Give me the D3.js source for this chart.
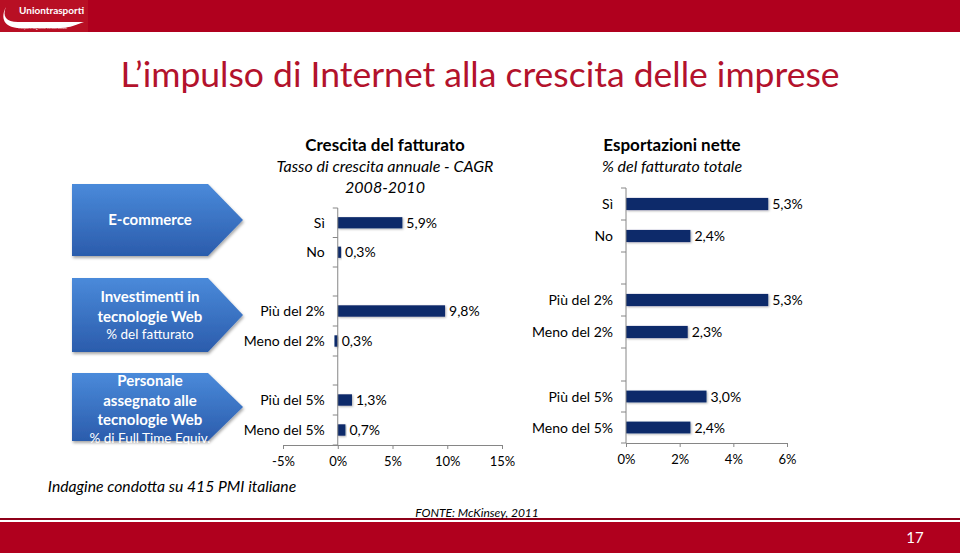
<!DOCTYPE html>
<html><head><meta charset="utf-8">
<script src="https://cdn.jsdelivr.net/npm/d3@7"></script>
<style>body{margin:0;background:#fff}svg{display:block;font-family:Lato,"Open Sans",sans-serif}</style>
</head><body><svg id="c" width="960" height="553"></svg>
<script>
// ---- data ----
const title = "L\u2019impulso di Internet alla crescita delle imprese";
const rowTitles = [
  {bold:["E-commerce"], sub:[]},
  {bold:["Investimenti in","tecnologie Web"], sub:["% del fatturato"]},
  {bold:["Personale","assegnato alle","tecnologie Web"], sub:["% di Full Time Equiv."]}
];
const leftCategories = [["Sì","No"],["Più del 2%","Meno del 2%"],["Più del 5%","Meno del 5%"]];
const rightCategories = [["Sì","No"],["Più del 2%","Meno del 2%"],["Più del 5%","Meno del 5%"]];
const growthValues = [[5.9,0.3],[9.8,-0.3],[1.3,0.7]];
const growthLabels = [["5,9%","0,3%"],["9,8%","0,3%"],["1,3%","0,7%"]];
const exportValues = [[5.3,2.4],[5.3,2.3],[3.0,2.4]];
const exportLabels = [["5,3%","2,4%"],["5,3%","2,3%"],["3,0%","2,4%"]];
const growthTicks = [-5,0,5,10,15];
const exportTicks = [0,2,4,6];
const growthTitle = ["Crescita del fatturato","Tasso di crescita annuale - CAGR","2008-2010"];
const exportTitle = ["Esportazioni nette","% del fatturato totale"];
const footnote = "Indagine condotta su 415 PMI italiane";
const source = "FONTE: McKinsey, 2011";
const pageNum = "17";

// ---- drawing ----
const svg = d3.select("#c");
const defs = svg.append("defs");
const g1 = defs.append("linearGradient").attr("id","arrowGrad").attr("x1",0).attr("y1",0).attr("x2",0).attr("y2",1);
g1.append("stop").attr("offset","0%").attr("stop-color","#4A8ADA");
g1.append("stop").attr("offset","100%").attr("stop-color","#2B5CAC");
const f = defs.append("filter").attr("id","shadow").attr("x","-10%").attr("y","-10%").attr("width","130%").attr("height","140%");
f.append("feDropShadow").attr("dx",1).attr("dy",2).attr("stdDeviation",1.5).attr("flood-color","#000").attr("flood-opacity",0.35);
const fb = defs.append("filter").attr("id","barShadow").attr("x","-10%").attr("y","-20%").attr("width","130%").attr("height","160%");
fb.append("feDropShadow").attr("dx",1).attr("dy",1).attr("stdDeviation",0.8).attr("flood-color","#000").attr("flood-opacity",0.3);

// header band
svg.append("rect").attr("x",0).attr("y",0).attr("width",960).attr("height",32).attr("fill","#B0001E");
svg.append("rect").attr("x",0).attr("y",0).attr("width",88).attr("height",32).attr("fill","#B80F24");
svg.append("path").attr("d","M6,7 C2,16 6,22 18,22 L84,22 C78,24 70,28 60,28 L20,28 C4,28 0,18 6,7 Z").attr("fill","#fff");
svg.append("text").attr("x",19).attr("y",14).attr("font-size",10).attr("font-weight","bold").attr("fill","#fff").text("Uniontrasporti");
svg.append("text").attr("x",18).attr("y",29).attr("font-size",3.5).attr("fill","#fff").text("Trasporti Logistica Infrastrutture");

// title
svg.append("text").attr("x",480).attr("y",87).attr("text-anchor","middle").attr("font-size",35.5)
  .attr("fill","#B3122C").text(title);

// footer band
svg.append("rect").attr("x",0).attr("y",518).attr("width",960).attr("height",2).attr("fill","#8E0019");
svg.append("rect").attr("x",0).attr("y",522).attr("width",960).attr("height",31).attr("fill","#B0001E");
svg.append("text").attr("x",915).attr("y",543).attr("text-anchor","middle").attr("font-size",15).attr("fill","#fff").text(pageNum);

// column headers
const hdr = (x, lines) => {
  lines.forEach((t,i)=>{
    svg.append("text").attr("x",x).attr("y",151+i*21).attr("text-anchor","middle")
      .attr("font-size",i===0?17:16).attr("font-weight",i===0?"bold":"normal")
      .attr("font-style",i===0?"normal":"italic").attr("fill","#000").text(t);
  });
};
hdr(385, growthTitle);
hdr(672, exportTitle);

// arrows
const arrows = [{top:184,bot:256},{top:278,bot:352},{top:373,bot:441}];
arrows.forEach((a,i)=>{
  const x0=72, xb=208, tip=243, mid=(a.top+a.bot)/2;
  svg.append("path").attr("d",`M${x0},${a.top}L${xb},${a.top}L${tip},${mid}L${xb},${a.bot}L${x0},${a.bot}Z`)
    .attr("fill","url(#arrowGrad)").attr("filter","url(#shadow)");
  const rt = rowTitles[i];
  const lines = rt.bold.map(t=>({t,b:true})).concat(rt.sub.map(t=>({t,b:false})));
  const lh = [[0],[0,20,37],[0,20,39,57]][i];
  const start = [225,302,386][i];
  lines.forEach((l,j)=>{
    svg.append("text").attr("x",150).attr("y",start+lh[j]).attr("text-anchor","middle")
      .attr("font-size",l.b?15:13.5).attr("font-weight",l.b?"bold":"normal").attr("fill","#fff").text(l.t);
  });
});

// panels
const leftBands = [[208,267],[296,356],[385,445]];
const rightBands = [[188,252],[284,348],[381,443]];
const x1 = d3.scaleLinear().domain([-5,15]).range([283,502]);
const x2 = d3.scaleLinear().domain([0,6]).range([626,787]);

function panel(x, bands, cats, vals, labels, ticks){
  const axisCol = "#868686";
  const zero = x(0);
  bands.forEach((b,i)=>{
    const y = d3.scaleBand().domain(cats[i]).range(b).paddingInner(0.62).paddingOuter(0.31);
    const g = svg.append("g");
    const step = (b[1]-b[0])/cats[i].length;
    d3.range(cats[i].length+1).forEach(k=>{
      const yy = b[0]+k*step;
      g.append("line").attr("x1",zero-5).attr("x2",zero).attr("y1",yy).attr("y2",yy).attr("stroke",axisCol);
    });
    cats[i].forEach((c,k)=>{
      const v = vals[i][k];
      g.append("rect").attr("x",Math.min(x(v),zero)).attr("y",y(c))
        .attr("width",Math.abs(x(v)-zero)).attr("height",y.bandwidth())
        .attr("fill","#0C2C6B").attr("filter","url(#barShadow)");
      g.append("text").attr("x",zero-13).attr("y",y(c)+y.bandwidth()/2+5).attr("text-anchor","end")
        .attr("font-size",14).attr("fill","#000").text(c);
      g.append("text").attr("x",Math.max(x(v),zero)+4).attr("y",y(c)+y.bandwidth()/2+5)
        .attr("font-size",14).attr("fill","#000").text(labels[i][k]);
    });
  });
  const top = bands[0][0], bottom = bands[bands.length-1][1];
  svg.append("line").attr("x1",zero).attr("x2",zero).attr("y1",top).attr("y2",bottom).attr("stroke",axisCol);
  const ax = svg.append("g").attr("transform",`translate(0,${bottom})`)
    .call(d3.axisBottom(x).tickValues(ticks).tickSize(4).tickSizeOuter(0).tickPadding(8).tickFormat(d=>d+"%"));
  ax.select(".domain").attr("stroke",axisCol);
  ax.selectAll(".tick line").attr("stroke",axisCol);
  ax.selectAll("text").attr("font-size",13).attr("font-family","Lato,'Open Sans',sans-serif").attr("fill","#000");
}
panel(x1, leftBands, leftCategories, growthValues, growthLabels, growthTicks);
panel(x2, rightBands, rightCategories, exportValues, exportLabels, exportTicks);

// notes
svg.append("text").attr("x",172).attr("y",492).attr("text-anchor","middle").attr("font-size",15.7)
  .attr("font-style","italic").attr("fill","#000").text(footnote);
svg.append("text").attr("x",477).attr("y",517).attr("text-anchor","middle").attr("font-size",12)
  .attr("font-style","italic").attr("fill","#000").text(source);
</script></body></html>
